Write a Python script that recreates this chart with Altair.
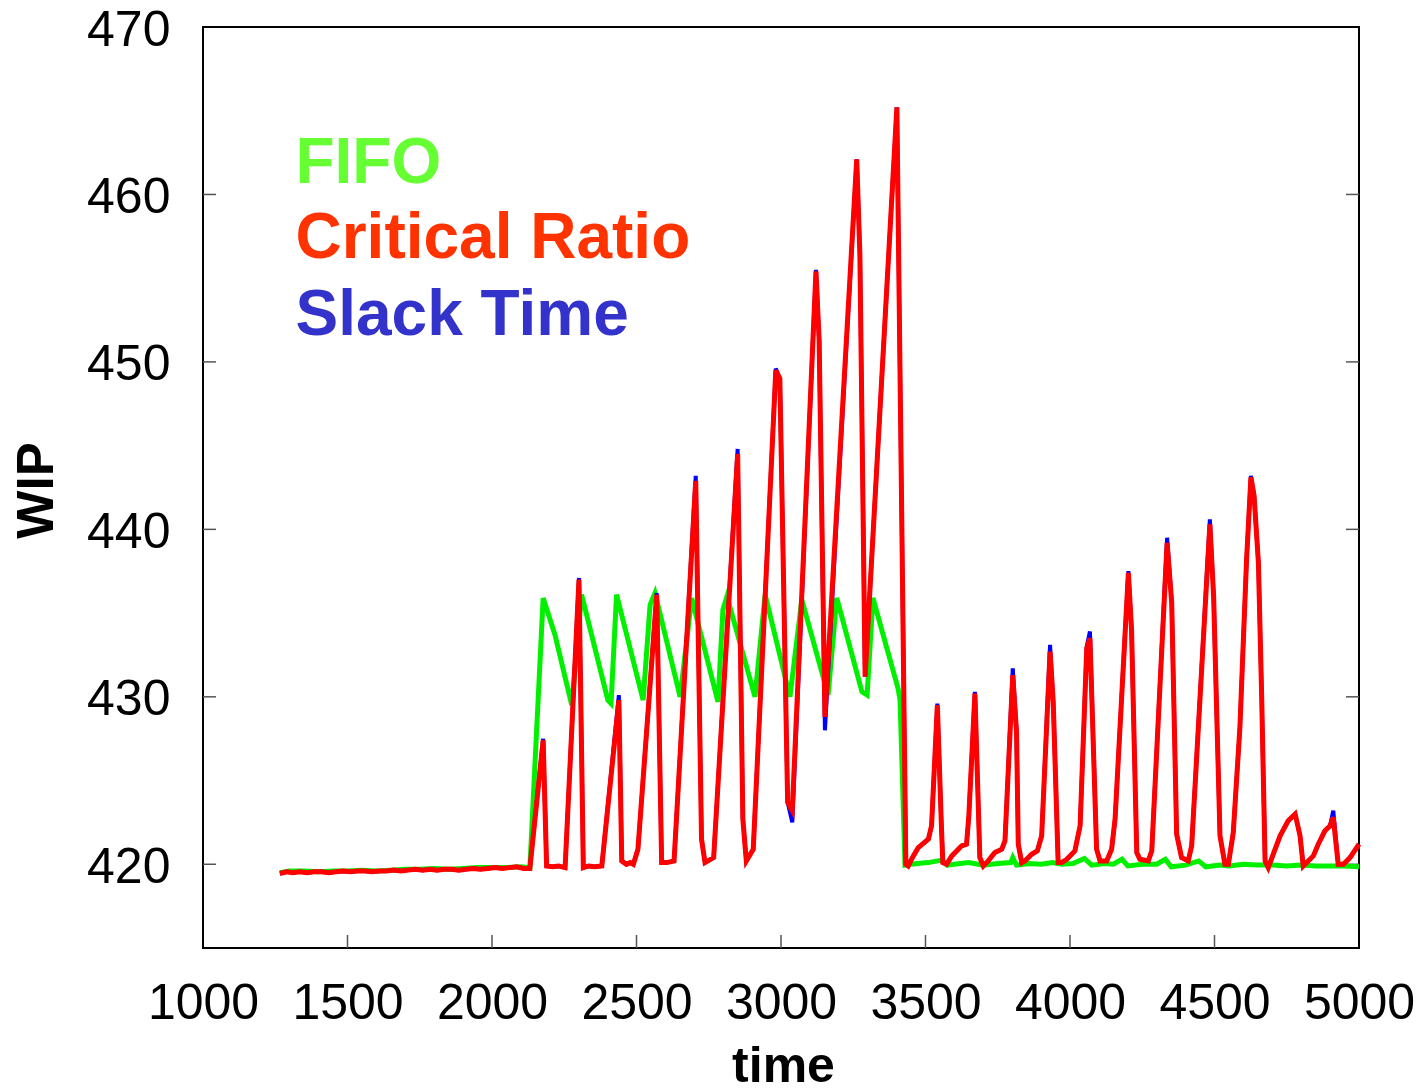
import altair as alt
import pandas as pd

# ---------------- data ----------------
cr_time = [1266, 1290, 1310, 1335, 1360, 1385, 1410, 1435, 1460, 1485, 1510, 1535, 1560, 1585, 1610,
           1635, 1660, 1685, 1710, 1735, 1760, 1785, 1810, 1835, 1860, 1885, 1910, 1935, 1960, 1985,
           2010, 2035, 2060, 2085, 2110, 2131, 2177, 2189, 2210, 2230, 2253, 2301, 2316, 2335, 2355,
           2380, 2439, 2449, 2465, 2478, 2489, 2505, 2570, 2587, 2605, 2630, 2705, 2725, 2737, 2767,
           2850, 2868, 2880, 2904, 2982, 2996, 3023, 3039, 3121, 3132, 3152, 3262, 3273, 3291, 3401,
           3432, 3440, 3458, 3475, 3510, 3521, 3541, 3555, 3560, 3573, 3591, 3625, 3642, 3650, 3671,
           3688, 3700, 3717, 3740, 3764, 3775, 3802, 3815, 3821, 3833, 3844, 3867, 3887, 3902, 3931,
           3942, 3959, 3971, 3989, 4017, 4035, 4058, 4069, 4092, 4104, 4127, 4144, 4156, 4202, 4213,
           4231, 4242, 4271, 4283, 4336, 4352, 4369, 4386, 4409, 4421, 4484, 4497, 4519, 4536, 4548,
           4565, 4588, 4611, 4626, 4637, 4652, 4663, 4675, 4686, 4727, 4755, 4779, 4796, 4807, 4842,
           4859, 4882, 4900, 4911, 4928, 4946, 4969, 5000]
cr_wip = [419.45, 419.55, 419.5, 419.55, 419.5, 419.55, 419.55, 419.5, 419.55, 419.6, 419.55, 419.6, 419.6, 419.55, 419.6,
          419.6, 419.65, 419.6, 419.65, 419.7, 419.65, 419.7, 419.65, 419.7, 419.7, 419.65, 419.7, 419.75, 419.7, 419.75,
          419.8, 419.75, 419.8, 419.85, 419.75, 419.75, 427.4, 419.9, 419.85, 419.9, 419.8, 437.0, 419.8, 419.9, 419.85,
          419.9, 429.8, 420.2, 420.0, 420.1, 420.0, 420.9, 436.1, 420.1, 420.1, 420.2, 442.9, 421.5, 420.1, 420.4,
          444.5, 422.7, 420.2, 420.9, 449.5, 449.0, 423.7, 423.2, 455.4, 451.3, 428.8, 462.1, 456.4, 431.2, 465.2,
          420.0, 419.9, 420.5, 421.0, 421.5, 422.3, 429.5, 422.3, 420.1, 420.0, 420.5, 421.1, 421.2, 422.9, 430.2,
          420.4, 419.9, 420.2, 420.7, 420.9, 421.4, 431.3, 427.9, 421.2, 420.1, 420.2, 420.6, 420.8, 421.7, 432.7,
          429.7, 420.1, 420.1, 420.3, 420.8, 422.3, 432.9, 433.5, 420.9, 420.2, 420.2, 420.9, 422.7, 437.4, 434.0,
          420.7, 420.3, 420.2, 420.8, 439.2, 435.6, 421.8, 420.4, 420.2, 421.1, 440.3, 436.0, 421.7, 420.0, 420.0,
          421.9, 428.2, 438.2, 443.1, 442.0, 438.0, 430.2, 420.2, 419.8, 421.7, 422.6, 423.0, 421.7, 419.9, 420.5,
          421.2, 422.0, 422.3, 422.8, 420.0, 420.0, 420.4, 421.2]

st_time = [1266, 1290, 1310, 1335, 1360, 1385, 1410, 1435, 1460, 1485, 1510, 1535, 1560, 1585, 1610,
           1635, 1660, 1685, 1710, 1735, 1760, 1785, 1810, 1835, 1860, 1885, 1910, 1935, 1960, 1985,
           2010, 2035, 2060, 2085, 2110, 2131, 2177, 2189, 2210, 2230, 2253, 2301, 2316, 2335, 2355,
           2380, 2439, 2449, 2465, 2478, 2489, 2505, 2570, 2587, 2605, 2630, 2705, 2725, 2737, 2767,
           2850, 2868, 2880, 2904, 2982, 2996, 3023, 3039, 3121, 3132, 3152, 3262, 3273, 3291, 3401,
           3432, 3440, 3458, 3475, 3510, 3521, 3541, 3555, 3560, 3573, 3591, 3625, 3642, 3650, 3671,
           3688, 3700, 3717, 3740, 3764, 3775, 3802, 3815, 3821, 3833, 3844, 3867, 3887, 3902, 3931,
           3942, 3959, 3971, 3989, 4017, 4035, 4058, 4069, 4092, 4104, 4127, 4144, 4156, 4202, 4213,
           4231, 4242, 4271, 4283, 4336, 4352, 4369, 4386, 4409, 4421, 4484, 4497, 4519, 4536, 4548,
           4565, 4588, 4611, 4626, 4637, 4652, 4663, 4675, 4686, 4727, 4755, 4779, 4796, 4807, 4842,
           4859, 4882, 4900, 4911, 4928, 4946, 4969, 5000]
st_wip = [419.45, 419.55, 419.5, 419.55, 419.5, 419.55, 419.55, 419.5, 419.55, 419.6, 419.55, 419.6, 419.6, 419.55, 419.6,
          419.6, 419.65, 419.6, 419.65, 419.7, 419.65, 419.7, 419.65, 419.7, 419.7, 419.65, 419.7, 419.75, 419.7, 419.75,
          419.8, 419.75, 419.8, 419.85, 419.75, 419.75, 427.5, 419.9, 419.85, 419.9, 419.8, 437.1, 419.8, 419.9, 419.85,
          419.9, 430.1, 420.2, 420.0, 420.1, 420.0, 420.9, 436.2, 420.1, 420.1, 420.2, 443.2, 421.5, 420.1, 420.4,
          444.8, 422.7, 420.2, 420.9, 449.6, 449.0, 423.7, 422.5, 455.5, 451.3, 428.0, 462.1, 456.5, 431.2, 465.2,
          420.0, 419.9, 420.5, 421.0, 421.5, 422.3, 429.6, 422.3, 420.1, 420.0, 420.5, 421.1, 421.2, 422.9, 430.3,
          420.4, 419.9, 420.2, 420.7, 420.9, 421.4, 431.7, 427.9, 421.2, 420.1, 420.2, 420.6, 420.8, 421.7, 433.1,
          429.7, 420.1, 420.1, 420.3, 420.8, 422.3, 433.0, 433.9, 420.9, 420.2, 420.2, 420.9, 422.7, 437.5, 434.0,
          420.7, 420.3, 420.2, 420.8, 439.5, 435.6, 421.8, 420.4, 420.2, 421.1, 440.6, 436.0, 421.7, 420.0, 420.0,
          421.9, 428.2, 438.2, 443.2, 442.0, 438.0, 430.2, 420.2, 419.8, 421.7, 422.6, 423.0, 421.7, 419.9, 420.5,
          421.2, 422.0, 422.3, 423.2, 420.0, 420.0, 420.4, 421.2]

fifo_time = [1266, 1300, 1350, 1400, 1450, 1500, 1550, 1600, 1650, 1700, 1750, 1800, 1850, 1900, 1950,
             2000, 2050, 2100, 2131, 2177, 2218, 2276, 2310, 2401, 2412, 2431, 2523, 2547, 2564, 2651,
             2691, 2782, 2799, 2813, 2910, 2945, 3031, 3072, 3163, 3193, 3280, 3298, 3318, 3405, 3412,
             3429, 3470, 3510, 3557, 3575, 3620, 3650, 3700, 3750, 3795, 3802, 3815, 3860, 3900, 3940,
             3970, 4010, 4050, 4075, 4120, 4150, 4180, 4200, 4250, 4300, 4330, 4350, 4400, 4445, 4470,
             4520, 4550, 4600, 4650, 4700, 4750, 4800, 4850, 4900, 4950, 5000]
fifo_wip = [419.5, 419.6, 419.6, 419.55, 419.6, 419.6, 419.65, 419.6, 419.65, 419.7, 419.7, 419.75, 419.7, 419.75, 419.8,
            419.8, 419.8, 419.85, 419.8, 435.9, 433.7, 429.5, 436.1, 429.8, 429.6, 436.1, 429.8, 435.5, 436.2, 430.0,
            435.9, 429.7, 435.2, 436.0, 430.0, 436.1, 430.0, 435.8, 430.1, 435.9, 430.3, 430.1, 435.9, 430.5, 429.8,
            419.95, 420.05, 420.1, 420.25, 419.95, 420.05, 420.1, 419.95, 420.05, 420.1, 420.4, 419.95, 420.05, 420.0, 420.1,
            420.0, 420.05, 420.35, 419.95, 420.05, 420.0, 420.3, 419.9, 420.0, 420.0, 420.3, 419.85, 419.95, 420.2, 419.85,
            419.95, 419.9, 420.0, 419.95, 419.95, 419.9, 419.95, 419.9, 419.9, 419.9, 419.85]

legend_labels = ["FIFO", "Critical Ratio", "Slack Time"]
legend_colors = ["#66ff33", "#ff3300", "#3333cc"]
legend_time = [1320, 1320, 1320]
legend_wip = [460.7, 456.2, 451.6]

x_ticks = [1000, 1500, 2000, 2500, 3000, 3500, 4000, 4500, 5000]
y_ticks = [420, 430, 440, 450, 460, 470]
x_inner_ticks = [1500, 2000, 2500, 3000, 3500, 4000, 4500]
y_inner_ticks = [420, 430, 440, 450, 460]

# ---------------- tables ----------------
df_cr = pd.DataFrame({"time": cr_time, "wip": cr_wip})
df_st = pd.DataFrame({"time": st_time, "wip": st_wip})
df_fifo = pd.DataFrame({"time": fifo_time, "wip": fifo_wip})
df_leg = pd.DataFrame({"time": legend_time, "wip": legend_wip,
                       "label": legend_labels, "color": legend_colors})
df_ytk = pd.DataFrame({"time": [1000] * len(y_inner_ticks) + [5000] * len(y_inner_ticks),
                       "wip": y_inner_ticks + y_inner_ticks})
df_xtk = pd.DataFrame({"time": x_inner_ticks, "wip": [415] * len(x_inner_ticks)})

FONT = "Liberation Sans"

x_axis = alt.Axis(values=x_ticks, format="d", ticks=False, tickSize=0, domain=False, grid=False,
                  labelFontSize=50, labelFont=FONT, labelColor="black", labelPadding=30,
                  labelFlush=False, labelOverlap=False,
                  title="time", titleFont=FONT, titleFontSize=50, titleFontWeight="bold",
                  titleColor="black", titleX=580, titleY=133, titleBaseline="alphabetic",
                  titleAlign="center")
y_axis = alt.Axis(values=y_ticks, format="d", ticks=False, tickSize=0, domain=False, grid=False,
                  labelFontSize=50, labelFont=FONT, labelColor="black", labelPadding=33,
                  labelOffset=3, labelFlush=False, labelOverlap=False,
                  title="WIP", titleFont=FONT, titleFontSize=51, titleFontWeight="bold",
                  titleColor="black", titleX=-151, titleY=463, titleBaseline="alphabetic",
                  titleAlign="center", titleAngle=270)

X = alt.X("time:Q", scale=alt.Scale(domain=[1000, 5000], nice=False, zero=False), axis=x_axis)
Y = alt.Y("wip:Q", scale=alt.Scale(domain=[415, 470], nice=False, zero=False), axis=y_axis)

fifo = alt.Chart(df_fifo).mark_line(color="#00f000", strokeWidth=5).encode(x=X, y=Y, order="time:Q")
slack = alt.Chart(df_st).mark_line(color="#0000ff", strokeWidth=4).encode(x=X, y=Y, order="time:Q")
crit = alt.Chart(df_cr).mark_line(color="#ff0000", strokeWidth=5).encode(x=X, y=Y, order="time:Q")

legend = alt.Chart(df_leg).mark_text(font=FONT, fontSize=64, fontWeight="bold", align="left",
                                     baseline="alphabetic").encode(
    x=X, y=Y, text="label:N", color=alt.Color("color:N", scale=None))

ytk = alt.Chart(df_ytk).mark_tick(orient="horizontal", size=26, thickness=1.5, color="#555555",
                                  clip=True, opacity=1).encode(x=X, y=Y)
xtk = alt.Chart(df_xtk).mark_tick(orient="vertical", size=26, thickness=1.5, color="#555555",
                                  clip=True, opacity=1).encode(x=X, y=Y)

chart = alt.layer(ytk, xtk, fifo, slack, crit, legend).properties(
    width=1156, height=921,
    autosize=alt.AutoSizeParams(type="none"),
    padding={"left": 195, "top": 19, "right": 55, "bottom": 148},
).configure(font=FONT).configure_view(stroke="black", strokeWidth=2)

chart.save("out.html", embed_options={"renderer": "svg", "actions": False})
